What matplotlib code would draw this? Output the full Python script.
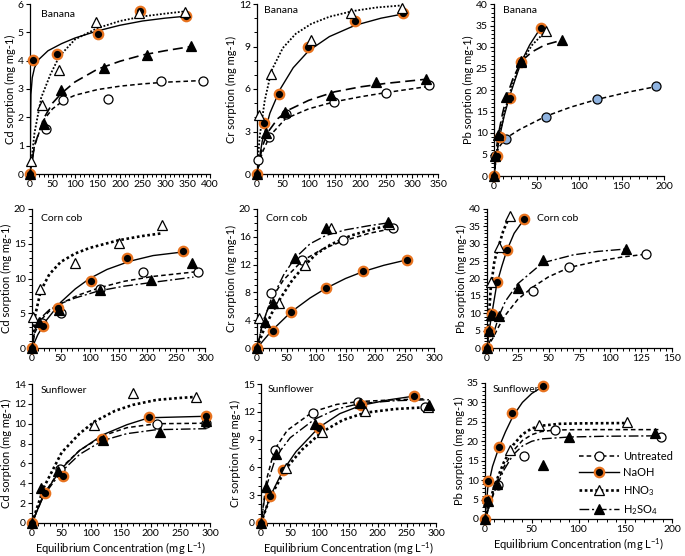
import matplotlib
matplotlib.use('Agg')
import matplotlib.pyplot as plt
from matplotlib.ticker import MultipleLocator, AutoMinorLocator
from matplotlib.lines import Line2D

plt.rcParams['font.family'] = ['Lato', 'DejaVu Sans']
plt.rcParams['mathtext.fontset'] = 'custom'
plt.rcParams['mathtext.rm'] = 'Lato'
plt.rcParams['mathtext.it'] = 'Lato:italic'

# ---- data: (x, y) of points and of the fitted curves ----

# Banana - Cd
banana_cd_untr = ([35, 74, 173, 290, 385], [1.6, 2.6, 2.64, 3.28, 3.3])
banana_cd_untr_fit = ([0, 10, 30, 50, 75, 100, 150, 200, 250, 300, 385],
                      [0, 1.0, 1.9, 2.3, 2.6, 2.78, 2.98, 3.1, 3.18, 3.24, 3.3])
banana_cd_naoh = ([0, 7, 59, 152, 244, 347], [0, 4.02, 4.22, 4.93, 5.75, 5.58])
banana_cd_naoh_fit = ([0, 2, 5, 10, 20, 40, 70, 100, 150, 200, 250, 300, 347],
                      [0, 2.8, 3.4, 3.75, 4.05, 4.35, 4.6, 4.8, 5.05, 5.25, 5.4, 5.5, 5.57])
banana_cd_hno3 = ([3, 26, 65, 146, 243, 345], [0.45, 2.45, 3.67, 5.38, 5.7, 5.72])
banana_cd_hno3_fit = ([0, 10, 25, 45, 65, 100, 150, 200, 250, 300, 345],
                      [0, 1.45, 2.7, 3.5, 4.15, 4.75, 5.15, 5.4, 5.56, 5.66, 5.74])
banana_cd_h2so4 = ([0, 30, 69, 164, 259, 358], [0, 1.78, 2.95, 3.73, 4.2, 4.53])
banana_cd_h2so4_fit = ([0, 10, 30, 50, 70, 100, 150, 200, 250, 300, 358],
                       [0, 1.0, 1.95, 2.5, 2.85, 3.25, 3.7, 3.98, 4.2, 4.35, 4.5])

# Banana - Cr
banana_cr_untr = ([2, 24, 57, 149, 249, 332], [1.0, 2.6, 4.24, 5.1, 5.74, 6.28])
banana_cr_untr_fit = ([0, 10, 25, 55, 100, 150, 200, 250, 335],
                      [0, 1.5, 2.7, 3.9, 4.6, 5.1, 5.45, 5.75, 6.2])
banana_cr_naoh = ([0, 13, 42, 99, 190, 282], [0, 3.6, 5.62, 8.99, 10.82, 11.34])
banana_cr_naoh_fit = ([0, 10, 25, 45, 70, 100, 140, 190, 240, 283],
                      [0, 2.3, 4.3, 6.0, 7.5, 8.7, 9.7, 10.5, 11.0, 11.3])
banana_cr_hno3 = ([4, 28, 104, 182, 280], [4.15, 7.06, 9.46, 11.34, 11.7])
banana_cr_hno3_fit = ([0, 5, 15, 28, 50, 75, 105, 140, 185, 230, 280],
                      [0, 2.6, 5.2, 7.3, 8.9, 9.9, 10.6, 11.1, 11.5, 11.75, 11.9])
banana_cr_h2so4 = ([0, 18, 55, 144, 231, 327], [0, 2.87, 4.35, 5.58, 6.52, 6.7])
banana_cr_h2so4_fit = ([0, 10, 20, 40, 60, 100, 150, 200, 250, 330],
                       [0, 1.9, 2.9, 3.9, 4.5, 5.2, 5.8, 6.15, 6.4, 6.7])

# Banana - Pb
banana_pb_untr = ([0, 1.5, 14.5, 61.5, 121.5, 191], [0, 4.6, 8.6, 13.7, 17.8, 20.9])
banana_pb_untr_fit = ([0, 2, 5, 14, 30, 61, 90, 121, 160, 191],
                      [0, 3.5, 6.5, 8.8, 10.8, 13.9, 16, 17.8, 19.6, 20.8])
banana_pb_naoh = ([0, 4, 6.7, 18.4, 32, 55], [0, 4.6, 9.1, 18.2, 26.6, 34.5])
banana_pb_naoh_fit = ([0, 3, 7, 12, 18, 25, 32, 42, 55],
                      [0, 5, 9.5, 14, 18.3, 22.5, 26.5, 30.5, 34.5])
banana_pb_hno3 = ([32, 61], [26.6, 33.7])
banana_pb_hno3_fit = ([0, 3, 7, 12, 18, 25, 32, 45, 61],
                      [0, 5.5, 10, 14.5, 19, 23, 26.5, 30.5, 33.7])
banana_pb_h2so4 = ([0, 1.5, 5, 14.5, 32, 80], [0, 4.6, 9.5, 18.4, 26.7, 31.6])
banana_pb_h2so4_fit = ([0, 2, 5, 10, 15, 22, 32, 45, 60, 80],
                       [0, 5, 9.5, 14.5, 18.5, 22.5, 26.7, 28.9, 30.5, 31.6])

# Corn cob - Cd
corn_cd_untr = ([18, 51, 118, 192, 288], [3.6, 5.1, 8.5, 10.9, 11.0])
corn_cd_untr_fit = ([0, 5, 15, 30, 50, 80, 118, 160, 210, 288],
                    [0, 2.2, 4.0, 5.3, 6.4, 7.6, 8.7, 9.6, 10.3, 11.0])
corn_cd_naoh = ([0, 19, 45, 102, 165, 262], [0, 3.1, 5.7, 9.6, 12.9, 13.9])
corn_cd_naoh_fit = ([0, 10, 25, 50, 75, 100, 130, 170, 210, 260],
                    [0, 1.9, 4.0, 6.6, 8.5, 10.0, 11.3, 12.5, 13.3, 13.8])
corn_cd_hno3 = ([2, 14.5, 75, 150, 225], [4.4, 8.5, 12.3, 15.1, 17.7])
corn_cd_hno3_fit = ([0, 5, 15, 30, 50, 75, 100, 150, 190, 225],
                    [0, 4.5, 8.2, 10.6, 12.4, 13.6, 14.4, 15.5, 16.1, 16.5])
corn_cd_h2so4 = ([0, 13, 47, 118, 206, 278], [0, 3.8, 5.5, 8.4, 9.8, 12.3])
corn_cd_h2so4_fit = ([0, 5, 15, 30, 50, 75, 115, 160, 205, 280],
                     [0, 2.6, 4.3, 5.5, 6.4, 7.2, 8.2, 8.9, 9.4, 10.2])

# Corn cob - Cr
corn_cr_untr = ([24, 76, 146, 230], [7.9, 12.7, 15.5, 17.2])
corn_cr_untr_fit = ([0, 10, 24, 45, 76, 110, 146, 190, 230],
                    [0, 3.6, 7.0, 9.8, 12.5, 14.2, 15.4, 16.5, 17.2])
corn_cr_naoh = ([0, 27, 58, 117.5, 180, 255], [0, 2.5, 5.2, 8.6, 11.1, 12.7])
corn_cr_naoh_fit = ([0, 25, 58, 90, 117, 150, 180, 215, 255],
                    [0, 2.5, 5.2, 7.2, 8.6, 10.0, 11.0, 11.9, 12.7])
corn_cr_hno3 = ([3, 38, 81, 125, 223], [4.3, 6.46, 12.0, 17.3, 17.9])
corn_cr_hno3_fit = ([0, 10, 25, 40, 60, 80, 100, 125, 160, 200, 225],
                    [0, 2.3, 5.0, 7.2, 9.8, 11.8, 13.5, 14.9, 16.2, 17.2, 17.6])
corn_cr_h2so4 = ([0, 13, 27, 64, 117.5, 222], [0, 3.8, 6.5, 13.0, 17.3, 18.1])
corn_cr_h2so4_fit = ([0, 10, 25, 45, 64, 90, 117, 150, 190, 222],
                     [0, 3.8, 7.0, 10.5, 12.9, 15.0, 16.2, 17.0, 17.6, 18.0])

# Corn cob - Pb
corn_pb_untr = ([37, 66.7, 129], [16.3, 23.4, 27.0])
corn_pb_untr_fit = ([0, 5, 10, 15, 25, 37, 50, 67, 90, 110, 129],
                    [0, 3, 6.5, 9.5, 14, 17.5, 20.5, 23.2, 25, 26.2, 27])
corn_pb_naoh = ([0, 1.6, 4, 8.3, 16.4, 29.6], [0, 5, 9.8, 19.1, 28.2, 37.0])
corn_pb_naoh_fit = ([0, 2, 4, 8, 12, 16, 22, 30],
                    [0, 5.5, 10, 18.5, 23.5, 28, 33, 37])
corn_pb_hno3 = ([3.5, 9.7, 18.3], [19.1, 29.2, 38.0])
corn_pb_hno3_fit = ([0, 1, 3, 6, 9.7, 13, 18.3],
                    [0, 6, 17, 25, 29.5, 33.5, 38])
corn_pb_h2so4 = ([0, 1.6, 3.5, 9.7, 25.5, 45, 113], [0, 4.8, 9.4, 9.1, 17.2, 25.4, 28.5])
corn_pb_h2so4_fit = ([0, 3, 6, 10, 15, 25, 45, 70, 90, 113],
                     [0, 2.5, 5, 9.5, 13.5, 18.5, 24.5, 26.8, 27.8, 28.5])

# Sunflower - Cd
sun_cd_untr = ([47, 210, 294], [5.43, 9.95, 10.1])
sun_cd_untr_fit = ([0, 20, 50, 80, 120, 160, 210, 294],
                   [0, 2.9, 5.6, 7.3, 8.8, 9.6, 10.0, 10.05])
sun_cd_naoh = ([0, 22.5, 52, 118.7, 197, 294], [0, 3.0, 4.75, 8.47, 10.65, 10.8])
sun_cd_naoh_fit = ([0, 20, 50, 80, 120, 160, 197, 294],
                   [0, 2.9, 5.5, 7.3, 8.9, 9.9, 10.6, 10.75])
sun_cd_hno3 = ([104.7, 170.5, 276], [9.88, 13.1, 12.7])
sun_cd_hno3_fit = ([0, 20, 50, 80, 105, 140, 170, 210, 250, 276],
                   [0, 3.6, 7.1, 9.0, 10.2, 11.3, 11.9, 12.4, 12.6, 12.7])
sun_cd_h2so4 = ([0, 15.8, 44, 119, 215, 294], [0, 3.5, 5.2, 8.4, 9.2, 10.3])
sun_cd_h2so4_fit = ([0, 20, 50, 80, 119, 160, 210, 294],
                    [0, 2.8, 5.2, 6.9, 8.3, 9.0, 9.4, 9.5])

# Sunflower - Cr
sun_cr_untr = ([23.4, 88.6, 167, 280.6], [7.9, 11.9, 13.1, 12.5])
sun_cr_untr_fit = ([0, 10, 23, 45, 89, 130, 167, 230, 281],
                   [0, 4.8, 7.9, 10.0, 12.0, 12.8, 13.1, 13.3, 13.4])
sun_cr_naoh = ([0, 16, 37, 99, 172, 263], [0, 2.9, 5.7, 10.3, 12.7, 13.7])
sun_cr_naoh_fit = ([0, 16, 37, 60, 99, 135, 172, 220, 263],
                   [0, 2.9, 5.6, 7.7, 10.3, 11.8, 12.7, 13.3, 13.7])
sun_cr_hno3 = ([43, 104.6, 177.7, 286], [5.95, 9.85, 12.1, 12.5])
sun_cr_hno3_fit = ([0, 15, 43, 70, 104, 140, 178, 230, 286],
                   [0, 2.7, 5.9, 7.9, 9.8, 11.1, 11.9, 12.3, 12.5])
sun_cr_h2so4 = ([0, 9, 25.7, 92, 170, 288.6], [0, 3.9, 7.4, 10.7, 13.0, 12.7])
sun_cr_h2so4_fit = ([0, 9, 26, 50, 92, 130, 170, 230, 288],
                    [0, 3.9, 7.2, 9.2, 11.2, 12.3, 12.9, 13.2, 13.3])

# Sunflower - Pb
sun_pb_untr = ([13.8, 41.4, 74.8, 188], [8.8, 16.1, 23.0, 21.2])
sun_pb_untr_fit = ([0, 10, 20, 30, 40, 50, 60, 75, 100, 140, 188],
                   [0, 7.5, 13.3, 17.5, 20.2, 21.7, 22.5, 22.9, 23.0, 23.0, 23.0])
sun_pb_naoh = ([0, 1.7, 3.4, 15.5, 29.3, 62], [0, 4.9, 9.8, 18.5, 27.3, 34.1])
sun_pb_naoh_fit = ([0, 3, 8, 15, 22, 30, 40, 50, 62],
                   [0, 8, 13.5, 18.5, 22.5, 26.5, 30, 32.3, 34.1])
sun_pb_hno3 = ([27, 58, 151.7], [17.8, 24.2, 24.9])
sun_pb_hno3_fit = ([0, 10, 20, 30, 40, 50, 60, 80, 100, 152],
                   [0, 8.5, 14.5, 19, 21.8, 23.3, 24.0, 24.5, 24.6, 24.7])
sun_pb_h2so4 = ([0, 3.4, 13, 62, 89.7, 182], [0, 4.7, 9.0, 13.8, 21.2, 22.1])
sun_pb_h2so4_fit = ([0, 10, 20, 30, 40, 50, 60, 90, 130, 182],
                    [0, 7, 12.5, 16.5, 18.8, 20, 20.6, 21.1, 21.3, 21.4])

treatments = ['Untreated', 'NaOH', 'HNO$_3$', 'H$_2$SO$_4$']
x_title = 'Equilibrium Concentration (mg L$^{-1}$)'

# panel: axes box in pixels (left, top, right, bottom), biosorbent, metal,
# x limit/step, y limit/step, label position, series
panels = [
    ((30, 4, 210, 174), 'Banana', 'Cd', 400, 50, 6, 1, (0.06, 0.94),
     [banana_cd_untr, banana_cd_naoh, banana_cd_hno3, banana_cd_h2so4],
     [banana_cd_untr_fit, banana_cd_naoh_fit, banana_cd_hno3_fit, banana_cd_h2so4_fit]),
    ((257, 4, 438, 174), 'Banana', 'Cr', 350, 50, 12, 3, (0.04, 0.96),
     [banana_cr_untr, banana_cr_naoh, banana_cr_hno3, banana_cr_h2so4],
     [banana_cr_untr_fit, banana_cr_naoh_fit, banana_cr_hno3_fit, banana_cr_h2so4_fit]),
    ((494, 4, 664, 176), 'Banana', 'Pb', 200, 50, 40, 5, (0.05, 0.96),
     [banana_pb_untr, banana_pb_naoh, banana_pb_hno3, banana_pb_h2so4],
     [banana_pb_untr_fit, banana_pb_naoh_fit, banana_pb_hno3_fit, banana_pb_h2so4_fit]),
    ((32, 209, 205, 348), 'Corn cob', 'Cd', 300, 50, 20, 5, (0.05, 0.93),
     [corn_cd_untr, corn_cd_naoh, corn_cd_hno3, corn_cd_h2so4],
     [corn_cd_untr_fit, corn_cd_naoh_fit, corn_cd_hno3_fit, corn_cd_h2so4_fit]),
    ((257, 209, 434, 348), 'Corn cob', 'Cr', 300, 50, 20, 4, (0.05, 0.93),
     [corn_cr_untr, corn_cr_naoh, corn_cr_hno3, corn_cr_h2so4],
     [corn_cr_untr_fit, corn_cr_naoh_fit, corn_cr_hno3_fit, corn_cr_h2so4_fit]),
    ((487, 209, 672, 348), 'Corn cob', 'Pb', 150, 25, 40, 5, (0.27, 0.93),
     [corn_pb_untr, corn_pb_naoh, corn_pb_hno3, corn_pb_h2so4],
     [corn_pb_untr_fit, corn_pb_naoh_fit, corn_pb_hno3_fit, corn_pb_h2so4_fit]),
    ((32, 384, 210, 523), 'Sunflower', 'Cd', 300, 50, 14, 2, (0.05, 0.95),
     [sun_cd_untr, sun_cd_naoh, sun_cd_hno3, sun_cd_h2so4],
     [sun_cd_untr_fit, sun_cd_naoh_fit, sun_cd_hno3_fit, sun_cd_h2so4_fit]),
    ((261, 384, 436, 523), 'Sunflower', 'Cr', 300, 50, 15, 3, (0.04, 0.96),
     [sun_cr_untr, sun_cr_naoh, sun_cr_hno3, sun_cr_h2so4],
     [sun_cr_untr_fit, sun_cr_naoh_fit, sun_cr_hno3_fit, sun_cr_h2so4_fit]),
    ((485, 383, 672, 519), 'Sunflower', 'Pb', 200, 50, 35, 5, (0.04, 0.95),
     [sun_pb_untr, sun_pb_naoh, sun_pb_hno3, sun_pb_h2so4],
     [sun_pb_untr_fit, sun_pb_naoh_fit, sun_pb_hno3_fit, sun_pb_h2so4_fit]),
]

orange = '#e8731f'
marker_styles = [
    dict(marker='o', mfc='white', mec='black', ms=6.5, mew=0.9),
    dict(marker='o', mfc='black', mec=orange, ms=6.8, mew=1.6),
    dict(marker='^', mfc='white', mec='black', ms=7, mew=0.9),
    dict(marker='^', mfc='black', mec='black', ms=7, mew=0.9),
]
line_styles = [
    dict(ls=(0, (3, 2)), lw=1.1),
    dict(ls='-', lw=1.0),
    dict(ls=(0, (1, 1)), lw=1.9),
    dict(ls=(0, (7, 2, 1.5, 2)), lw=1.0),
]

W, H = 685, 556
fig = plt.figure(figsize=(W / 100, H / 100), dpi=100)

for n, (box, name, metal, xmax, xstep, ymax, ystep, lab_pos, pts, fits) in enumerate(panels):
    l, t, r, b = box
    ax = fig.add_axes([l / W, 1 - b / H, (r - l) / W, (b - t) / H])
    for i in range(4):
        ls = dict(line_styles[i])
        if n < 3 and i == 3:
            # top row: H2SO4 fit drawn with long dashes
            ls['ls'] = (0, (6, 3))
            ls['lw'] = 1.2
        if n < 3 and i == 2:
            ls['lw'] = 1.3
        ax.plot(fits[i][0], fits[i][1], color='black', zorder=2, **ls)
    for i in range(4):
        ms = dict(marker_styles[i])
        if n == 2 and i == 0:
            ms['mfc'] = '#8fb3e0'
        ax.plot(pts[i][0], pts[i][1], ls='none', zorder=3 + i, clip_on=False, **ms)

    ax.set_xlim(0, xmax)
    ax.set_ylim(0, ymax)
    ax.xaxis.set_major_locator(MultipleLocator(xstep))
    ax.yaxis.set_major_locator(MultipleLocator(ystep))
    ax.xaxis.set_minor_locator(AutoMinorLocator(5))
    ax.yaxis.set_minor_locator(AutoMinorLocator(5 if ystep == 5 else ystep))
    ax.tick_params(which='major', direction='out', length=3, width=0.8, labelsize=7.5, pad=1.5)
    ax.tick_params(which='minor', direction='out', length=2, width=0.7)
    for s in ['top', 'right']:
        ax.spines[s].set_visible(False)
    for s in ['left', 'bottom']:
        ax.spines[s].set_linewidth(0.9)
    ax.set_ylabel(metal + ' sorption (mg mg-1)', fontsize=8, labelpad=1.5)
    if n >= 6:
        ax.set_xlabel(x_title, fontsize=8, labelpad=2)
    ax.text(lab_pos[0], lab_pos[1], name, transform=ax.transAxes, fontsize=7.5,
            ha='left', va='center')

    if n == 8:
        handles = []
        for i in range(4):
            handles.append(Line2D([], [], color='black', **line_styles[i], **marker_styles[i]))
        ax.legend(handles, treatments, loc='upper left', bbox_to_anchor=(0.46, 0.56),
                  frameon=False, fontsize=8, handlelength=3.6, handletextpad=0.4,
                  labelspacing=0.5, borderpad=0.2)

fig.savefig('out.png', dpi=100)
